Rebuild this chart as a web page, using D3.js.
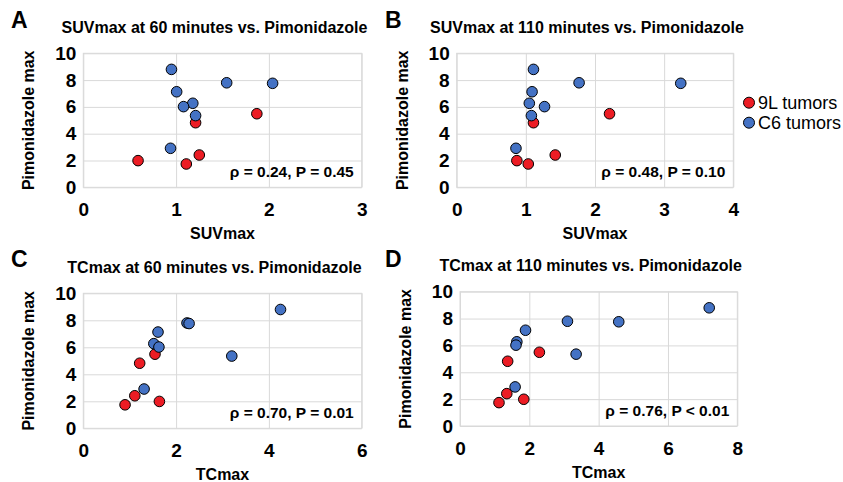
<!DOCTYPE html>
<html>
<head>
<meta charset="utf-8">
<script src="https://cdn.jsdelivr.net/npm/d3@7"></script>
<style>
  body { margin: 0; background: #fff; }
  svg text { font-family: Arial, "Liberation Sans", sans-serif; fill: #000; }
</style>
</head>
<body>
<div id="chart"></div>
<script>
// pimonidazole max per tumour (same tumours in all four panels)
const pimo9L = [4.82, 5.49, 1.99, 1.74, 2.41];
const pimoC6 = [8.80, 7.80, 7.76, 7.13, 6.27, 6.02, 5.35, 2.91];

// x values per panel, same tumour order as above
const suv60_9L  = [1.21, 1.87, 0.59, 1.11, 1.25];
const suv60_C6  = [0.95, 1.545, 2.04, 1.006, 1.18, 1.08, 1.21, 0.94];
const suv110_9L = [1.11, 2.21, 0.87, 1.035, 1.425];
const suv110_C6 = [1.11, 1.77, 3.24, 1.09, 1.05, 1.27, 1.08, 0.857];
const tc60_9L   = [1.215, 1.545, 1.64, 0.90, 1.11];
const tc60_C6   = [4.25, 2.235, 2.28, 1.61, 1.52, 1.63, 3.20, 1.31];
const tc110_9L  = [1.375, 2.29, 1.84, 1.125, 1.35];
const tc110_C6  = [7.19, 3.10, 4.58, 1.89, 1.64, 1.615, 3.35, 1.59];

const panelLetters = ["A", "B", "C", "D"];
const panelTitles = [
  "SUVmax at 60 minutes vs. Pimonidazole",
  "SUVmax at 110 minutes vs. Pimonidazole",
  "TCmax at 60 minutes vs. Pimonidazole",
  "TCmax at 110 minutes vs. Pimonidazole"
];
const xTitles = ["SUVmax", "SUVmax", "TCmax", "TCmax"];
const xTickValues = [[0, 1, 2, 3], [0, 1, 2, 3, 4], [0, 2, 4, 6], [0, 2, 4, 6, 8]];
const yTickValues = [0, 2, 4, 6, 8, 10];
const yTitle = "Pimonidazole max";
const statLabels = [
  "ρ = 0.24, P = 0.45",
  "ρ = 0.48, P = 0.10",
  "ρ = 0.70, P = 0.01",
  "ρ = 0.76, P < 0.01"
];
const legendLabels = ["9L tumors", "C6 tumors"];
const groupColors = ["#ec1c24", "#4472c4"];

const xs9L = [suv60_9L, suv110_9L, tc60_9L, tc110_9L];
const xsC6 = [suv60_C6, suv110_C6, tc60_C6, tc110_C6];

// plot-area boxes for each panel
const boxes = [
  {left: 83.3,  top: 53.3,  w: 278.4, h: 134},
  {left: 456.7, top: 53.3,  w: 276.6, h: 134},
  {left: 83.3,  top: 293.3, w: 278.4, h: 135},
  {left: 460,   top: 291.7, w: 277.3, h: 134.3}
];

var svg = d3.select("#chart").append("svg")
            .attr("width", 843)
            .attr("height", 482);

var grid = "#d9d9d9";

boxes.forEach(function(b, p){

    var g = svg.append("g")
               .attr("transform", "translate(" + b.left + "," + b.top + ")");

    var xt = xTickValues[p];
    var x = d3.scaleLinear().domain([xt[0], xt[xt.length-1]]).range([0, b.w]);
    var y = d3.scaleLinear().domain([0, 10]).range([b.h, 0]);

    //axes with gridlines
    var xAxis = g.append("g")
        .attr("transform", "translate(0," + b.h + ")")
        .call(d3.axisBottom(x).tickValues(xt).tickSize(-b.h).tickPadding(15.5).tickFormat(d3.format("d")));
    var yAxis = g.append("g")
        .call(d3.axisLeft(y).tickValues(yTickValues).tickSize(-b.w).tickPadding(7).tickFormat(d3.format("d")));

    [xAxis, yAxis].forEach(function(a){
        a.select(".domain").remove();
        a.selectAll(".tick line").attr("stroke", grid).attr("stroke-width", 1);
        a.selectAll(".tick text")
         .style("font-family", "Arial, 'Liberation Sans', sans-serif")
         .style("font-size", "19px")
         .style("font-weight", "bold")
         .attr("fill", "#000");
    });

    g.append("rect")
     .attr("width", b.w).attr("height", b.h)
     .attr("fill", "none").attr("stroke", grid).attr("stroke-width", 1);

    //points: 9L first, C6 on top
    [[xs9L[p], pimo9L, 0], [xsC6[p], pimoC6, 1]].forEach(function(s){
        g.selectAll(null).data(s[0].map(function(v, i){ return [v, s[1][i]]; }))
         .enter().append("circle")
         .attr("cx", function(d){ return x(d[0]); })
         .attr("cy", function(d){ return y(d[1]); })
         .attr("r", 5.3)
         .attr("fill", groupColors[s[2]])
         .attr("stroke", "#000")
         .attr("stroke-width", 1);
    });

    g.append("text")
     .attr("x", b.w - 8).attr("y", b.h - 10)
     .attr("text-anchor", "end")
     .style("font-size", "15.5px").style("font-weight", "bold")
     .text(statLabels[p]);

    //titles
    g.append("text")
     .attr("x", b.w / 2 - 8).attr("y", -20.5)
     .attr("text-anchor", "middle")
     .style("font-size", "16px").style("font-weight", "bold")
     .text(panelTitles[p]);

    g.append("text")
     .attr("x", b.w / 2).attr("y", b.h + 52)
     .attr("text-anchor", "middle")
     .style("font-size", "16px").style("font-weight", "bold")
     .text(xTitles[p]);

    g.append("text")
     .attr("transform", "translate(-49," + (b.h / 2) + ") rotate(-90)")
     .attr("text-anchor", "middle")
     .style("font-size", "16px").style("font-weight", "bold")
     .text(yTitle);

    g.append("text")
     .attr("x", (p % 2 === 0 ? 11 : 385) - b.left).attr("y", (p < 2 ? 28 : 267) - b.top)
     .style("font-size", "23px").style("font-weight", "bold")
     .text(panelLetters[p]);
});

//legend
var legend = svg.append("g").attr("transform", "translate(749,102.7)");
legendLabels.forEach(function(lab, i){
    legend.append("circle")
          .attr("cx", 0).attr("cy", i * 20)
          .attr("r", 5.5)
          .attr("fill", groupColors[i])
          .attr("stroke", "#000").attr("stroke-width", 1);
    legend.append("text")
          .attr("x", 9).attr("y", i * 20 + 6)
          .style("font-size", "18px")
          .text(lab);
});
</script>
</body>
</html>
